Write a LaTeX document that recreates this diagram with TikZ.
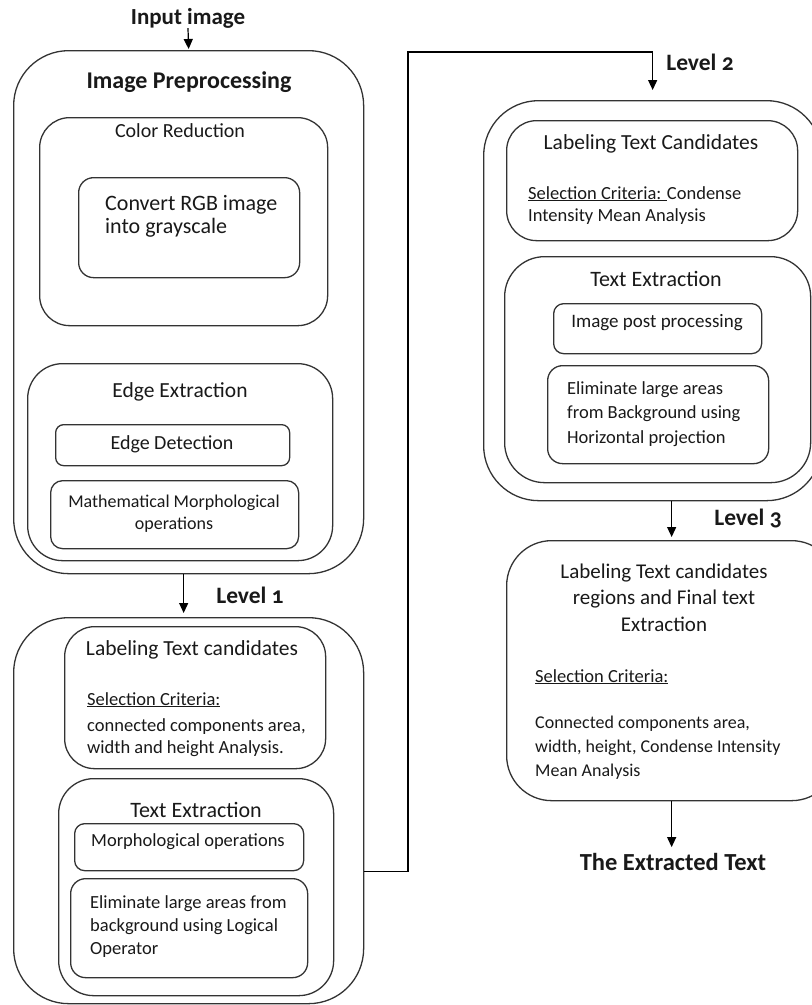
\documentclass[tikz,border=0pt]{standalone}
\usepackage{fontspec}
\setmainfont{Carlito}
\usetikzlibrary{arrows.meta}
\begin{document}
\begin{tikzpicture}[x=1pt,y=-1pt,
  box/.style={draw=black!80, line width=1.3pt, rounded corners=#1, inner sep=0pt, anchor=north west},
  txt/.style={font=\fontsize{18.5}{23}\selectfont, inner sep=0pt, text=black!90},
  ttl/.style={font=\fontsize{21.5}{26}\selectfont, inner sep=0pt, text=black!90},
  hd/.style={font=\fontsize{23.5}{26}\selectfont\bfseries, inner sep=0pt, text=black!90},
  arr/.style={draw=black, line width=1.2pt, -{Triangle[length=10pt,width=9pt]}},
  link/.style={draw=black, line width=1.2pt}]
\useasboundingbox (0,0) rectangle (812,1005);
\clip (0,0) rectangle (812,1005);

% ---------- Input ----------
\node[hd, font=\fontsize{23}{26}\selectfont\bfseries] (input) at (188,18) {Input image};

% ---------- Box 1 : Image Preprocessing ----------
\node[box=55, minimum width=350pt, minimum height=523pt] (pre) at (13,50) {};
\node[hd, font=\fontsize{24}{26}\selectfont\bfseries] (preT) at (189,82) {Image Preprocessing};
\node[box=30, minimum width=288pt, minimum height=208pt] (cr) at (39,117) {};
\node[txt, font=\fontsize{20}{24}\selectfont] (crT) at (180,131) {Color Reduction};
\node[box=15, minimum width=221pt, minimum height=100pt] (cv) at (78,177) {};
\node[txt, font=\fontsize{22}{23}\selectfont, align=left, anchor=base west] (cvT) at (105,233) {Convert RGB image\\into grayscale};
\node[box=35, minimum width=305pt, minimum height=197pt] (ee) at (27,363) {};
\node[ttl] (eeT) at (180,392) {Edge Extraction};
\node[box=8, minimum width=234pt, minimum height=41pt] (ed) at (55,424) {};
\node[txt, font=\fontsize{20}{24}\selectfont] (edT) at (172,444) {Edge Detection};
\node[box=12, minimum width=248pt, minimum height=68pt] (mm) at (50,480) {};
\node[txt, font=\fontsize{18}{22}\selectfont, align=center] (mmT) at (174,514) {Mathematical Morphological\\operations};

% ---------- Box 2 : Level 1 ----------
\node[hd] (lv1) at (250,595) {Level \addfontfeatures{Numbers=OldStyle}1};
\node[box=55, minimum width=350pt, minimum height=386pt] (b2) at (13,617) {};
\node[box=30, minimum width=261pt, minimum height=142pt] (lt1) at (64,626) {};
\node[ttl] (lt1T) at (192,650) {Labeling Text candidates};
\node[txt, anchor=base west] (lt1S) at (87,705) {\underline{Selection Criteria:}};
\node[txt, font=\fontsize{18.5}{22}\selectfont, align=left, anchor=base west] (lt1L) at (87,753) {connected components area,\\width and height Analysis.};
\node[box=35, minimum width=275pt, minimum height=217pt] (te1) at (58,778) {};
\node[ttl, font=\fontsize{22}{26}\selectfont] (te1T) at (196,810) {Text Extraction};
\node[box=10, minimum width=229pt, minimum height=47pt] (mo) at (74,823) {};
\node[txt] (moT) at (188,842) {Morphological operations};
\node[box=15, minimum width=237pt, minimum height=99pt] (el1) at (70,878) {};
\node[txt, align=left, anchor=base west] (el1T) at (90,954) {Eliminate large areas from\\background using Logical\\Operator};

% ---------- Box 3 : Level 2 ----------
\node[hd] (lv2) at (700,62) {Level \addfontfeatures{Numbers=OldStyle}2};
\node[box=55, minimum width=338pt, minimum height=400pt] (b3) at (483,100) {};
\node[box=30, minimum width=291pt, minimum height=120pt] (lt2) at (506,120) {};
\node[ttl] (lt2T) at (651,144) {Labeling Text Candidates};
\node[txt, font=\fontsize{18.5}{22}\selectfont, align=left, anchor=base west] (lt2S) at (528,221) {\underline{Selection Criteria: }Condense\\Intensity Mean Analysis};
\node[box=40, minimum width=306pt, minimum height=226pt] (te2) at (504,256) {};
\node[ttl, font=\fontsize{22}{26}\selectfont] (te2T) at (656,279) {Text Extraction};
\node[box=10, minimum width=208pt, minimum height=50pt] (ip) at (553,303) {};
\node[txt, font=\fontsize{19}{23}\selectfont] (ipT) at (657,323) {Image post processing};
\node[box=15, minimum width=221pt, minimum height=98pt] (el2) at (547,365) {};
\node[txt, font=\fontsize{18.5}{24.5}\selectfont, align=left, anchor=base west] (el2T) at (567,443) {Eliminate large areas\\from Background using\\Horizontal projection};

% ---------- Box 4 : Level 3 ----------
\node[hd] (lv3) at (748,518) {Level \addfontfeatures{Numbers=OldStyle}3};
\node[box=45, minimum width=330pt, minimum height=260pt] (b4) at (506,540) {};
\node[ttl, font=\fontsize{21}{26.5}\selectfont, align=center, anchor=base] (b4T) at (664,631) {Labeling Text candidates\\regions and Final text\\Extraction};
\node[txt, anchor=base west] (b4S) at (535,682) {\underline{Selection Criteria:}};
\node[txt, font=\fontsize{18}{24}\selectfont, align=left, anchor=base west] (b4L) at (535,776) {Connected components area,\\width, height, Condense Intensity\\Mean Analysis};

\node[hd, font=\fontsize{24.5}{26}\selectfont\bfseries] (final) at (673,862) {The Extracted Text};

% ---------- Connectors ----------
\coordinate (c1) at (408,52);
\draw[arr, shorten >=1pt] (input.south) -- (pre.north);
\draw[arr, shorten >=4pt] ([xshift=-5pt]pre.south) -- ([xshift=-5pt]b2.north);
\draw[arr, shorten >=10pt] ([yshift=-61pt]b2.east) -| (c1) -| (b3.north);
\draw[arr, shorten >=3pt] (b3.south -| b4.north) -- (b4.north);
\draw[arr, shorten >=6pt] (b4.south) -- (b4.south |- final.north);
\end{tikzpicture}
\end{document}
